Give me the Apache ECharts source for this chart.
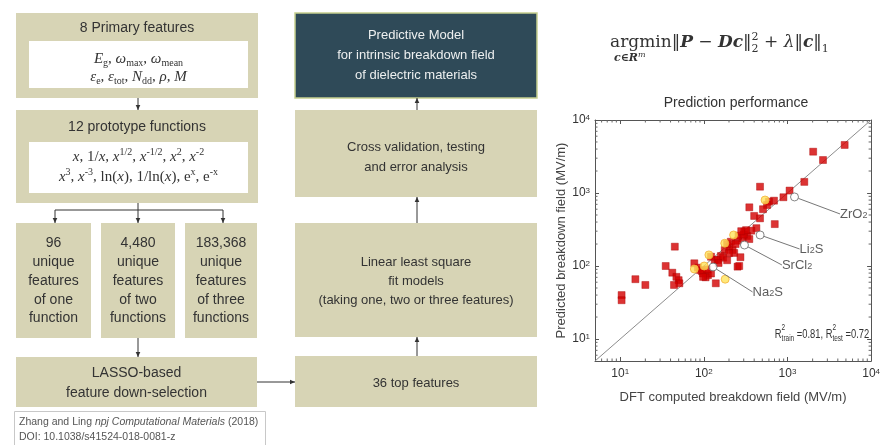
<!DOCTYPE html>
<html><head><meta charset="utf-8">
<script src="https://cdn.jsdelivr.net/npm/echarts@6/dist/echarts.min.js"></script>
<style>html,body{margin:0;padding:0;background:#fff}#c{width:883px;height:445px}</style>
</head><body><div id="c"></div>
<script>
// ---------------- DATA ----------------
const axisMin = 5;
const axisMax = 10000;
const diagonal = [5, 10000];
// minor tick values of the log axes (2..9 x 10^k inside the range)
const minorTickValues = [6, 7, 8, 9, 20, 30, 40, 50, 60, 70, 80, 90, 200, 300, 400, 500, 600, 700, 800, 900,
  2000, 3000, 4000, 5000, 6000, 7000, 8000, 9000];
// training set (red squares): DFT computed vs predicted breakdown field (MV/m)
const trainX = [4830, 2030, 2660, 1590, 1060, 470, 895, 690, 600, 570, 350, 510, 400, 470, 705, 425, 370, 305, 330, 290,
  253, 350, 202, 221, 178, 160, 231, 274, 135, 122, 147, 253, 77, 90, 98, 112, 122, 45, 35, 42,
  47, 50, 51, 44, 15.2, 20, 10.4, 10.4, 139, 265, 190, 210, 240, 260, 300, 320, 200, 170, 150, 190,
  280, 85, 95, 110, 105, 98];
const trainY = [4550, 3680, 2830, 1420, 1080, 1220, 875, 785, 760, 685, 637, 600, 485, 450, 375, 330, 305, 295, 258, 240,
  222, 234, 184, 166, 166, 137, 151, 132, 121, 134, 121, 98, 109, 88, 79, 75, 79, 184, 100, 81,
  71, 64, 58, 55, 66, 55, 40, 34, 58, 100, 200, 215, 200, 260, 270, 310, 150, 130, 110, 120,
  300, 95, 85, 90, 70, 71];
// test set (yellow circles)
const testX = [540, 227, 178, 115, 101, 77, 180];
const testY = [802, 266, 205, 142, 100, 91, 66];
// annotated compounds (hollow circles)
const labeledNames = ['ZrO2', 'Li2S', 'SrCl2', 'Na2S'];
const labeledX = [1214, 471, 306, 129];
const labeledY = [883, 266, 194, 97];
const labelRich = ['ZrO{s|2}', 'Li{s|2}S', 'SrCl{s|2}', 'Na{s|2}S'];

// flowchart text
const boxPrimaryTitle = '8 Primary features';
const boxProtoTitle = '12 prototype functions';
const featureCounts = ['96', '4,480', '183,368'];
const featureKinds = ['one\nfunction', 'two\nfunctions', 'three\nfunctions'];
const lassoText = 'LASSO-based\nfeature down-selection';
const modelText = 'Predictive Model\nfor intrinsic breakdown field\nof dielectric materials';
const crossText = 'Cross validation, testing\nand error analysis';
const linearText = 'Linear least square\nfit models\n(taking one, two or three features)';
const topText = '36 top features';
const chartTitle = 'Prediction performance';
const xName = 'DFT computed breakdown field (MV/m)';
const yName = 'Predicted breakdown field (MV/m)';

// ---------------- STYLE / HELPERS ----------------
const SANS = '"Liberation Sans", Arial, sans-serif';
const BEIGE = '#d7d4b5';
const DARK = '#2f4a58';
const TXT = '#333';
const mctx = document.createElement('canvas').getContext('2d');
function measure(font, t) { mctx.font = font; return mctx.measureText(t).width; }
function textEl(x, y, text, font, fill, align) {
  align = align || 'left';
  return { type: 'text', x: x, y: y, silent: true, z: 10,
    style: { text: text, font: font, fill: fill || TXT, align: align, verticalAlign: 'middle',
      textAlign: align, textVerticalAlign: 'middle' } };
}
function chain(x, y, parts, align) {
  const widths = parts.map(p => p.stack ? Math.max.apply(null, p.stack.map(s => measure(p.font, s.t))) : measure(p.font, p.t));
  const total = widths.reduce((a, b) => a + b, 0);
  let cx = align === 'center' ? x - total / 2 : x;
  const els = [];
  parts.forEach((p, i) => {
    if (p.stack) p.stack.forEach(s => els.push(textEl(cx, y + s.dy, s.t, p.font, p.fill)));
    else els.push(textEl(cx, y + (p.dy || 0), p.t, p.font, p.fill));
    cx += widths[i];
  });
  return els;
}
function rect(x, y, w, h, fill, stroke, lw) {
  return { type: 'rect', silent: true, z: 5, shape: { x: x, y: y, width: w, height: h },
    style: { fill: fill, stroke: stroke || null, lineWidth: lw || 0 } };
}
function block(cx, cy, text, size, lh, fill) {
  return { type: 'text', x: cx, y: cy, silent: true, z: 10,
    style: { text: text, font: size + 'px ' + SANS, fill: fill || TXT, align: 'center', verticalAlign: 'middle',
      textAlign: 'center', textVerticalAlign: 'middle', lineHeight: lh } };
}
function arrow(x1, y1, x2, y2) {
  const els = [{ type: 'line', silent: true, z: 6, shape: { x1: x1, y1: y1, x2: x2, y2: y2 }, style: { stroke: '#333', lineWidth: 1 } }];
  const dx = Math.sign(x2 - x1), dy = Math.sign(y2 - y1), L = 5, W = 2.3;
  const bx = x2 - dx * L, by = y2 - dy * L, px = -dy * W, py = dx * W;
  els.push({ type: 'polygon', silent: true, z: 6, shape: { points: [[x2, y2], [bx + px, by + py], [bx - px, by - py]] }, style: { fill: '#333' } });
  return els;
}
function seg(x1, y1, x2, y2) {
  return { type: 'line', silent: true, z: 6, shape: { x1: x1, y1: y1, x2: x2, y2: y2 }, style: { stroke: '#333', lineWidth: 1 } };
}

const mf = (st, sz) => st + ' ' + sz + 'px "Liberation Serif", "Times New Roman", serif';
const mR = t => ({ t: t, font: mf('normal', 15) });
const mI = t => ({ t: t, font: mf('italic', 15) });
const mSub = t => ({ t: t, font: mf('normal', 10), dy: 4 });
const mSup = t => ({ t: t, font: mf('normal', 10), dy: -5 });

const F = (st, sz) => st + ' ' + sz + 'px "DejaVu Serif", "Liberation Serif", serif';
const S = sz => sz + 'px ' + SANS;

let G = [];
// left column
G.push(rect(16, 13, 242, 85, BEIGE));
G.push(block(137, 28, boxPrimaryTitle, 14, 16));
G.push(rect(29, 41, 219, 47, '#fff'));
G = G.concat(chain(138.5, 59, [mI('E'), mSub('g'), mR(', '), mI('ω'), mSub('max'), mR(', '), mI('ω'), mSub('mean')], 'center'));
G = G.concat(chain(138.5, 77, [mI('ε'), mSub('e'), mR(', '), mI('ε'), mSub('tot'), mR(', '), mI('N'), mSub('dd'), mR(', '), mI('ρ'), mR(', '), mI('M')], 'center'));
G = G.concat(arrow(138, 98, 138, 110));
G.push(rect(16, 110, 242, 93, BEIGE));
G.push(block(137, 127, boxProtoTitle, 14, 16));
G.push(rect(29, 142, 219, 51, '#fff'));
G = G.concat(chain(138.5, 157, [mI('x'), mR(', 1/'), mI('x'), mR(', '), mI('x'), mSup('1/2'), mR(', '), mI('x'), mSup('-1/2'), mR(', '), mI('x'), mSup('2'), mR(', '), mI('x'), mSup('-2')], 'center'));
G = G.concat(chain(138.5, 177, [mI('x'), mSup('3'), mR(', '), mI('x'), mSup('-3'), mR(', ln('), mI('x'), mR('), 1/ln('), mI('x'), mR('), e'), mSup('x'), mR(', e'), mSup('-x')], 'center'));
G.push(seg(138, 203, 138, 210));
G.push(seg(55, 210, 223, 210));
G = G.concat(arrow(55, 210, 55, 223), arrow(138, 210, 138, 223), arrow(223, 210, 223, 223));
const smallBoxes = [[16, 75], [101, 74], [185, 72]];
smallBoxes.forEach((b, i) => {
  G.push(rect(b[0], 223, b[1], 115, BEIGE));
  G.push(block(b[0] + b[1] / 2, 281, featureCounts[i] + '\nunique\nfeatures\nof ' + featureKinds[i], 14, 18.7));
});
G = G.concat(arrow(138, 338, 138, 357));
G.push(rect(16, 357, 241, 50, BEIGE));
G.push(block(136.5, 383, lassoText, 14, 20));
G = G.concat(arrow(257, 382, 295, 382));
G.push(rect(14.5, 411.5, 251, 40, null, '#c8c8c8', 1));
G = G.concat(chain(19, 422, [
  { t: 'Zhang and Ling ', font: S(10.5), fill: '#555' },
  { t: 'npj Computational Materials', font: 'italic ' + S(10.5), fill: '#555' },
  { t: ' (2018)', font: S(10.5), fill: '#555' }]));
G.push(textEl(19, 437, 'DOI: 10.1038/s41524-018-0081-z', S(10.5), '#555'));

// right column of flowchart
G.push(rect(295, 13, 242, 85, DARK, '#c6cf8e', 1.5));
G.push(block(416, 55, modelText, 13, 20, '#eef0f0'));
G = G.concat(arrow(417, 110, 417, 98));
G.push(rect(295, 110, 242, 87, BEIGE));
G.push(block(416, 157, crossText, 13, 20));
G = G.concat(arrow(417, 223, 417, 197));
G.push(rect(295, 223, 242, 114, BEIGE));
G.push(block(416, 281, linearText, 13, 19));
G = G.concat(arrow(417, 356, 417, 337));
G.push(rect(295, 356, 242, 51, BEIGE));
G.push(block(416, 383, topText, 13, 16));

// formula
const fN = F('normal', 17), fB = F('italic bold', 17), fS = F('normal', 11);
G = G.concat(chain(610, 43, [
  { t: 'argmin', font: fN }, { t: '‖', font: fN }, { t: 'P', font: fB }, { t: ' − ', font: fN },
  { t: 'Dc', font: fB }, { t: '‖', font: fN }, { stack: [{ t: '2', dy: -6 }, { t: '2', dy: 6 }], font: fS },
  { t: ' + ', font: fN }, { t: 'λ', font: F('italic', 17) }, { t: '‖', font: fN }, { t: 'c', font: fB },
  { t: '‖', font: fN }, { t: '1', font: fS, dy: 6 }]));
G = G.concat(chain(614, 58, [{ t: 'c∈R', font: F('italic bold', 11) }, { t: 'm', font: F('italic', 8), dy: -3 }]));

// chart title
G.push(block(736, 103, chartTitle, 14, 16));
// R^2 text (horizontally condensed like the reference)
G.push({ type: 'group', scaleX: 0.72, originX: 822, originY: 334, children: chain(822, 334, [
  { t: 'R', font: S(13) }, { stack: [{ t: '2', dy: -6 }, { t: 'train', dy: 5 }], font: S(9) },
  { t: ' =0.81, R', font: S(13) }, { stack: [{ t: '2', dy: -6 }, { t: 'test', dy: 5 }], font: S(9) },
  { t: ' =0.72', font: S(13) }], 'center') });

// ---------------- CHART ----------------
function powLabel(v) {
  const e = Math.round(Math.log10(v));
  if (Math.abs(v - Math.pow(10, e)) > 1e-6 * v) return '';
  return '10{sup|' + e + '}';
}
const labelStyle = { color: TXT, fontSize: 12, fontFamily: SANS, formatter: powLabel,
  rich: { sup: { fontSize: 8, lineHeight: 8, verticalAlign: 'top', color: TXT, fontFamily: SANS } } };
function mkAxis(pos, show, extra) {
  return Object.assign({
    type: 'log', logBase: 10, min: axisMin, max: axisMax, position: pos,
    axisLine: { show: true, onZero: false, lineStyle: { color: '#555', width: 1 } },
    axisTick: { show: true, inside: true, length: 4, lineStyle: { color: '#555' } },
    splitLine: { show: false },
    axisLabel: show ? labelStyle : { show: false }
  }, extra || {});
}
const labelOffsets = [[37, 17], [31, 14], [29, 20], [31, 25]];

// minor ticks drawn on all four frame sides through the axes' coordinate mapping
function minorTickRender(params, api) {
  const v = api.value(0);
  const b = api.coord([v, axisMin]), t = api.coord([v, axisMax]);
  const l = api.coord([axisMin, v]), r = api.coord([axisMax, v]);
  const st = { stroke: '#666', lineWidth: 1 };
  return { type: 'group', children: [
    { type: 'line', shape: { x1: b[0], y1: b[1], x2: b[0], y2: b[1] - 2.5 }, style: st },
    { type: 'line', shape: { x1: t[0], y1: t[1], x2: t[0], y2: t[1] + 2.5 }, style: st },
    { type: 'line', shape: { x1: l[0], y1: l[1], x2: l[0] + 2.5, y2: l[1] }, style: st },
    { type: 'line', shape: { x1: r[0], y1: r[1], x2: r[0] - 2.5, y2: r[1] }, style: st }
  ] };
}

const chart = echarts.init(document.getElementById('c'), null, { renderer: 'canvas' });
chart.setOption({
  animation: false,
  backgroundColor: '#fff',
  grid: { left: 595, top: 120, width: 281, height: 241, containLabel: false },
  xAxis: [
    mkAxis('bottom', true, { name: xName, nameLocation: 'middle', nameGap: 30,
      nameTextStyle: { fontSize: 13, color: '#444', fontFamily: SANS }, axisLabel: Object.assign({ margin: 7 }, labelStyle) }),
    mkAxis('top', false)
  ],
  yAxis: [
    mkAxis('left', true, { name: yName, nameLocation: 'middle', nameGap: 22,
      nameTextStyle: { fontSize: 13, color: '#444', fontFamily: SANS }, axisLabel: Object.assign({ margin: 5 }, labelStyle) }),
    mkAxis('right', false)
  ],
  graphic: { elements: G },
  series: [
    { type: 'custom', silent: true, clip: false, z: 1, renderItem: minorTickRender,
      data: minorTickValues.map(v => [v, v]) },
    { type: 'line', data: [[diagonal[0], diagonal[0]], [diagonal[1], diagonal[1]]], showSymbol: false, silent: true,
      lineStyle: { color: '#8c8c8c', width: 1 }, z: 1 },
    { type: 'scatter', symbol: 'rect', symbolSize: 7, z: 2,
      data: trainX.map((x, i) => [x, trainY[i]]),
      itemStyle: { color: '#d30000', borderColor: '#a80000', borderWidth: 0.5 } },
    { type: 'scatter', symbol: 'circle', symbolSize: 8, z: 3,
      data: testX.map((x, i) => [x, testY[i]]),
      itemStyle: { color: '#ffe45a', borderColor: '#f2b23a', borderWidth: 1 } },
    { type: 'scatter', symbol: 'circle', symbolSize: 8, z: 4,
      data: labeledX.map((x, i) => ({ value: [x, labeledY[i]], name: labeledNames[i] })),
      itemStyle: { color: '#fff', borderColor: '#666', borderWidth: 1 },
      label: { show: true, position: 'right', distance: 4, color: TXT, fontSize: 13, fontFamily: SANS,
        formatter: p => labelRich[p.dataIndex],
        rich: { s: { fontSize: 9, verticalAlign: 'bottom', lineHeight: 9, color: TXT, fontFamily: SANS } } },
      labelLayout: p => ({ dx: labelOffsets[p.dataIndex][0], dy: labelOffsets[p.dataIndex][1] }),
      labelLine: { show: true, lineStyle: { color: '#777', width: 1 } } }
  ]
});
</script></body></html>
